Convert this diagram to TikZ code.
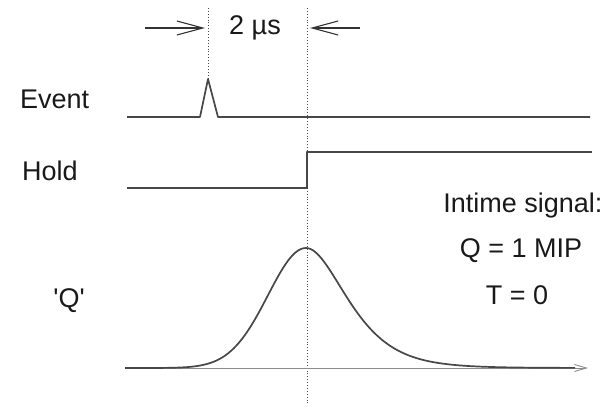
\documentclass[tikz,border=0pt]{standalone}
\usepackage{fontspec}
\setmainfont{Liberation Sans}
\usetikzlibrary{arrows.meta}

\tikzset{
  wave/.style={line width=1.7pt,black!72,line join=round},
  baseaxis/.style={line width=0.9pt,black!45},
  tmark/.style={dotted,line width=0.9pt,black!70},
  txt/.style={font=\fontsize{27}{30}\selectfont,inner sep=0pt,text=black!90},
  span/.style={-{Straight Barb[length=26pt,width=14pt]},line width=1.1pt,black!80}
}

\begin{document}
\begin{tikzpicture}[x=1pt,y=-1pt,
  declare function={sg(\t)=(\t<0) ? 38 : 34+0.14*\t;
                    pulse(\t)=120*exp(-0.5*(\t/sg(\t))*(\t/sg(\t)));}]
\useasboundingbox (0,0) rectangle (616,412);
% time markers
\coordinate (evtop) at (208,8);
\coordinate (evpeak) at (208,79);
\coordinate (tztop) at (307,8);
\coordinate (tzbot) at (307,405);
\draw[tmark] (evtop) -- (evpeak);
\draw[tmark] (tztop) -- (tzbot);
% 2 us window
\node[txt] (width) at (255,28) {2 µs};
\coordinate (lfrom) at (145,28);
\coordinate (lto) at (205,28);
\coordinate (rfrom) at (360,28);
\coordinate (rto) at (310,28);
\draw[span] (lfrom) -- (lto);
\draw[span] (rfrom) -- (rto);
% labels
\node[txt,anchor=west] (event) at (20,99) {Event};
\node[txt,anchor=west] (hold) at (22,171) {Hold};
\node[txt] (qlab) at (69,301) {\textquotesingle Q\textquotesingle};
\node[txt] (intime) at (523,206) {Intime signal:};
\node[txt] (qval) at (521,251) {Q = 1 MIP};
\node[txt] (tval) at (517,295) {T = 0};
% event and hold lines
\draw[wave] (127,117) -- (200,117) -- (evpeak) -- (218,117) -- (590,117);
\draw[wave] (127,188) -- (307,188) -- (307,152) -- (592,152);
% pulse
\coordinate (axfrom) at (125,368);
\coordinate (axto) at (588,368);
\draw[baseaxis,-{Straight Barb[length=12pt,width=7pt]}] (axfrom) -- (axto);
\draw[wave] plot[domain=125:575,samples=200] (\x,{368-pulse(\x-306)});
\end{tikzpicture}
\end{document}
